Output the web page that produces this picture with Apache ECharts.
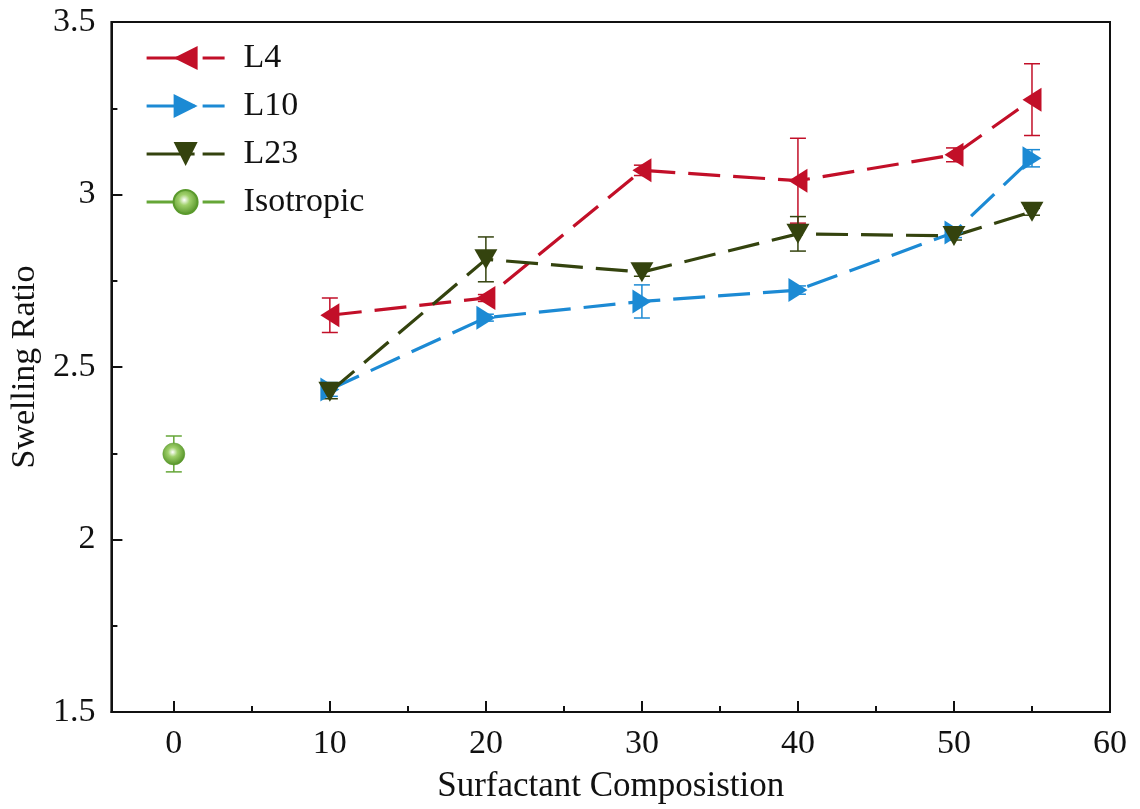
<!DOCTYPE html>
<html>
<head>
<meta charset="utf-8">
<script src="https://cdn.jsdelivr.net/npm/echarts@6/dist/echarts.min.js"></script>
<style>
  html, body { margin: 0; padding: 0; background: #fff; }
  #chart { width: 1140px; height: 809px; }
</style>
</head>
<body>
<div id="chart"></div>
<script>
// Swelling ratio versus surfactant composition
const composition = [10, 20, 30, 40, 50, 55];
const l4Values = [2.65, 2.70, 3.07, 3.04, 3.115, 3.275];
const l4Errors = [0.05, 0.01, 0.015, 0.123, 0.02, 0.104];
const l10Values = [2.435, 2.643, 2.69, 2.723, 2.89, 3.105];
const l10Errors = [0.02, 0.01, 0.048, 0.012, 0.015, 0.025];
const l23Values = [2.428, 2.812, 2.775, 2.886, 2.88, 2.95];
const l23Errors = [0.02, 0.065, 0.012, 0.05, 0.012, 0.01];
const isoComposition = [0];
const isoValues = [2.248];
const isoErrors = [0.052];

const xTickLabels = [0, 10, 20, 30, 40, 50, 60];
const xMinorTicks = [5, 15, 25, 35, 45, 55];

const FONT = 'Liberation Serif';
const RED = '#C20F28';
const BLUE = '#1C8AD4';
const OLIVE = '#34430E';
const GREEN = '#65A637';
const DASH = [32, 13];

function pairs(xs, ys) { return xs.map((x, i) => [x, ys[i]]); }
function triples(xs, ys, es) { return xs.map((x, i) => [x, ys[i], es[i]]); }

function errorSeries(data, color) {
  return {
    type: 'custom',
    data: data,
    z: 1,
    silent: true,
    renderItem: function (params, api) {
      const x = api.value(0), y = api.value(1), e = api.value(2);
      const top = api.coord([x, y + e]);
      const bot = api.coord([x, y - e]);
      const half = 8;
      const style = { stroke: color, lineWidth: 1.5 };
      return {
        type: 'group',
        children: [
          { type: 'line', shape: { x1: top[0], y1: top[1], x2: bot[0], y2: bot[1] }, style: style },
          { type: 'line', shape: { x1: top[0] - half, y1: top[1], x2: top[0] + half, y2: top[1] }, style: style },
          { type: 'line', shape: { x1: bot[0] - half, y1: bot[1], x2: bot[0] + half, y2: bot[1] }, style: style }
        ]
      };
    }
  };
}

const leftTri = 'path://M0,6 L10,0 L10,12 Z';
const rightTri = 'path://M10,6 L0,0 L0,12 Z';
const downTri = 'path://M0,0 L12,0 L6,10 Z';

function lineSeries(name, data, color, symbol, size) {
  return {
    name: name,
    type: 'line',
    data: data,
    z: 3,
    symbol: symbol,
    symbolSize: size,
    showAllSymbol: true,
    lineStyle: { color: color, width: 3.2, type: DASH },
    itemStyle: { color: color },
    emphasis: { disabled: true }
  };
}

const sphere = {
  type: 'radial', x: 0.45, y: 0.42, r: 0.6,
  colorStops: [
    { offset: 0, color: '#ffffff' },
    { offset: 0.35, color: '#9fd06a' },
    { offset: 1, color: '#4f8e22' }
  ]
};

const chart = echarts.init(document.getElementById('chart'));
chart.setOption({
  animation: false,
  backgroundColor: '#fff',
  textStyle: { fontFamily: FONT },
  grid: {
    left: 108, right: 30, top: 22, bottom: 96,
    show: true, borderColor: '#111', borderWidth: 2, containLabel: false
  },
  legend: {
    left: 140, top: 36, orient: 'vertical',
    itemWidth: 78, itemHeight: 30, itemGap: 14,
    lineStyle: { width: 3.2, type: [48, 8, 30, 0] },
    textStyle: { fontFamily: FONT, fontSize: 34, color: '#111', padding: [0, 0, 0, 14] },
    data: ['L4', 'L10', 'L23', 'Isotropic']
  },
  xAxis: [{
    type: 'value', min: -4, max: 60,
    name: 'Surfactant Composistion', nameLocation: 'middle', nameGap: 57,
    nameTextStyle: { fontFamily: FONT, fontSize: 35, color: '#111' },
    axisLine: { show: true, onZero: false, lineStyle: { color: '#111', width: 2 } },
    axisTick: { show: true, inside: true, length: 11, lineStyle: { color: '#111', width: 2 }, customValues: xTickLabels },
    axisLabel: { fontFamily: FONT, fontSize: 34, color: '#111', margin: 15, customValues: xTickLabels },
    splitLine: { show: false }
  }, {
    type: 'value', min: -4, max: 60, position: 'bottom',
    axisLine: { show: false, onZero: false },
    axisTick: { show: true, inside: true, length: 6, lineStyle: { color: '#111', width: 2 }, customValues: xMinorTicks },
    axisLabel: { show: false },
    splitLine: { show: false }
  }],
  yAxis: {
    type: 'value', min: 1.5, max: 3.5, interval: 0.5,
    name: 'Swelling Ratio', nameLocation: 'middle', nameGap: 64,
    nameTextStyle: { fontFamily: FONT, fontSize: 34, color: '#111' },
    axisLine: { show: true, onZero: false, lineStyle: { color: '#111', width: 2 } },
    axisTick: { show: true, inside: true, length: 11, lineStyle: { color: '#111', width: 2 } },
    minorTick: { show: true, splitNumber: 2, length: 6, lineStyle: { color: '#111', width: 2 } },
    axisLabel: { fontFamily: FONT, fontSize: 34, color: '#111', margin: 16,
      formatter: v => String(v) },
    splitLine: { show: false }
  },
  series: [
    errorSeries(triples(composition, l4Values, l4Errors), RED),
    errorSeries(triples(composition, l10Values, l10Errors), BLUE),
    errorSeries(triples(composition, l23Values, l23Errors), OLIVE),
    errorSeries(triples(isoComposition, isoValues, isoErrors), GREEN),
    lineSeries('L4', pairs(composition, l4Values), RED, leftTri, [19, 24]),
    lineSeries('L10', pairs(composition, l10Values), BLUE, rightTri, [19, 24]),
    lineSeries('L23', pairs(composition, l23Values), OLIVE, downTri, [23, 20]),
    {
      name: 'Isotropic', type: 'line', z: 3,
      data: pairs(isoComposition, isoValues),
      symbol: 'circle', symbolSize: 22,
      lineStyle: { color: GREEN, width: 3.2, type: DASH },
      itemStyle: { color: sphere, borderColor: '#5a9a2c', borderWidth: 0.5 },
      emphasis: { disabled: true }
    }
  ]
});
</script>
</body>
</html>
